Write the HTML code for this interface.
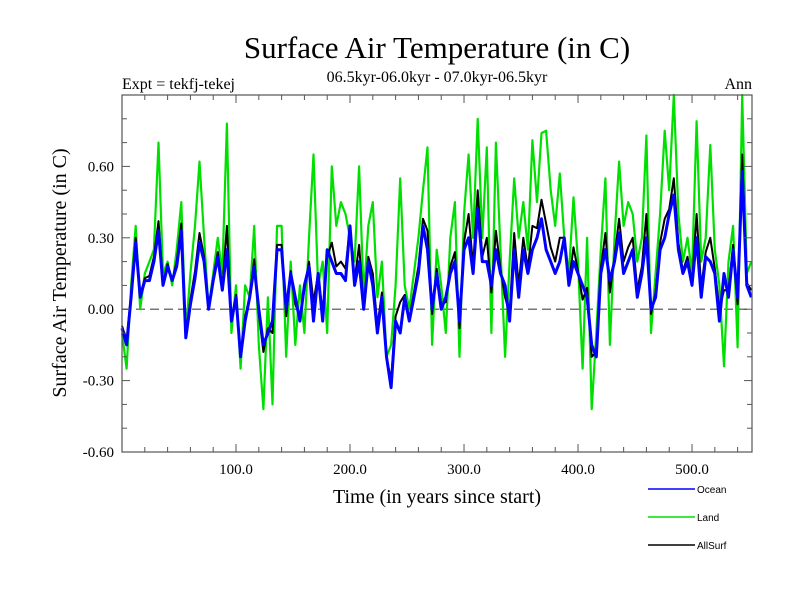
<!DOCTYPE html>
<html><head><meta charset="utf-8"><style>
body{margin:0;background:#fff;}
svg text{font-family:"Liberation Serif",serif;}
</style></head><body>
<svg id="chart" width="800" height="600" viewBox="0 0 800 600" xmlns="http://www.w3.org/2000/svg">
<rect width="800" height="600" fill="#fff"/>
<text x="437" y="58" font-size="31" text-anchor="middle">Surface Air Temperature (in C)</text>
<text x="122" y="89" font-size="16">Expt = tekfj-tekej</text>
<text x="437" y="82" font-size="16" text-anchor="middle">06.5kyr-06.0kyr - 07.0kyr-06.5kyr</text>
<text x="752" y="89" font-size="16" text-anchor="end">Ann</text>
<text transform="translate(66,273) rotate(-90)" font-size="20" text-anchor="middle">Surface Air Temperature (in C)</text>
<text x="437" y="503" font-size="20" text-anchor="middle">Time (in years since start)</text>
<g id="plot"></g>
<g id="axes"></g>
<g id="legend"></g>
</svg>
<script>
const years = [];
for (let t = 0; t <= 552; t += 4) years.push(t);
const ocean = [-0.08,-0.15,0.05,0.28,0.05,0.12,0.12,0.2,0.33,0.1,0.18,0.12,0.18,0.33,-0.12,0.02,0.13,0.28,0.2,0.0,0.12,0.22,0.08,0.25,-0.05,0.05,-0.2,-0.05,0.05,0.18,0.0,-0.15,-0.1,-0.05,0.25,
0.25,0.0,0.15,0.05,-0.05,0.1,0.18,-0.05,0.15,-0.05,0.25,0.2,0.15,0.15,0.12,0.35,0.1,0.2,0.0,0.2,0.1,-0.1,0.05,-0.2,-0.33,-0.05,-0.1,0.05,-0.05,0.05,0.15,0.35,0.25,0.0,0.15,
0.0,0.05,0.15,0.2,-0.05,0.25,0.3,0.15,0.42,0.2,0.2,0.1,0.25,0.15,0.1,-0.05,0.25,0.05,0.25,0.15,0.25,0.3,0.38,0.25,0.2,0.15,0.2,0.3,0.1,0.2,0.15,0.1,0.05,-0.15,-0.2,
0.15,0.25,0.12,0.2,0.32,0.15,0.2,0.25,0.05,0.15,0.3,0.0,0.05,0.25,0.3,0.4,0.48,0.25,0.15,0.2,0.1,0.3,0.05,0.22,0.2,0.15,-0.05,0.15,0.05,0.25,0.05,0.58,0.1,0.05];
const land = [-0.1,-0.25,0.1,0.35,0.0,0.15,0.2,0.25,0.7,0.15,0.2,0.1,0.25,0.45,-0.1,0.15,0.35,0.62,0.3,0.0,0.15,0.3,0.15,0.78,-0.1,0.1,-0.25,0.1,0.05,0.35,-0.15,-0.42,0.05,-0.4,0.35,
0.35,-0.2,0.2,-0.15,0.1,-0.1,0.3,0.65,0.1,0.2,-0.1,0.6,0.35,0.45,0.4,0.3,0.2,0.6,0.05,0.35,0.45,0.05,0.2,-0.2,-0.15,0.1,0.55,0.1,0.0,0.15,0.3,0.5,0.68,-0.15,0.25,
0.1,-0.1,0.3,0.45,-0.2,0.4,0.65,0.3,0.8,0.3,0.68,-0.1,0.7,0.25,-0.2,0.2,0.55,0.3,0.45,0.25,0.71,0.45,0.74,0.75,0.5,0.35,0.57,0.3,0.15,0.47,0.2,-0.25,0.3,-0.42,-0.1,
0.25,0.55,-0.15,0.3,0.62,0.35,0.45,0.4,0.2,0.3,0.73,-0.1,0.15,0.4,0.75,0.5,0.9,0.4,0.2,0.3,0.15,0.79,0.2,0.3,0.69,0.25,0.1,-0.24,0.2,0.35,-0.16,0.9,0.15,0.2];
const allSurf = [-0.07,-0.13,0.06,0.3,0.06,0.13,0.14,0.22,0.37,0.11,0.19,0.12,0.2,0.36,-0.11,0.04,0.16,0.32,0.22,0.0,0.13,0.24,0.09,0.35,-0.05,0.06,-0.2,-0.03,0.05,0.21,-0.02,-0.18,-0.08,-0.1,0.27,
0.27,-0.03,0.16,0.02,-0.03,0.08,0.2,0.03,0.15,-0.02,0.22,0.28,0.18,0.2,0.17,0.35,0.12,0.27,0.01,0.22,0.15,-0.07,0.07,-0.2,-0.3,-0.03,0.03,0.06,-0.04,0.07,0.18,0.38,0.33,-0.02,0.17,
0.02,0.03,0.18,0.24,-0.08,0.28,0.4,0.18,0.5,0.22,0.3,0.07,0.33,0.17,0.05,-0.02,0.32,0.1,0.3,0.17,0.35,0.34,0.46,0.36,0.26,0.2,0.3,0.3,0.11,0.26,0.16,0.04,0.09,-0.2,-0.18,
0.17,0.32,0.07,0.22,0.38,0.2,0.26,0.3,0.08,0.18,0.4,-0.02,0.07,0.28,0.38,0.42,0.55,0.28,0.16,0.22,0.11,0.4,0.09,0.24,0.3,0.17,0.0,0.08,0.08,0.27,0.02,0.65,0.11,0.08];
const yTickLabels = ["-0.60","-0.30","0.00","0.30","0.60"];
const xTickLabels = ["100.0","200.0","300.0","400.0","500.0"];
const seriesNames = ["Ocean","Land","AllSurf"];

const X0=122,X1=752,Y0=95,Y1=452, XMIN=0,XMAX=552.6, YMIN=-0.6,YMAX=0.9;
const sx=t=>X0+(t-XMIN)/(XMAX-XMIN)*(X1-X0);
const sy=v=>Y1-(v-YMIN)/(YMAX-YMIN)*(Y1-Y0);
const NS="http://www.w3.org/2000/svg";
function mk(tag,parent){const e=document.createElementNS(NS,tag);parent.appendChild(e);return e;}
const plot=document.getElementById('plot'), axes=document.getElementById('axes'), legend=document.getElementById('legend');

const z=mk('line',plot);


z.setAttribute('x1',X0);z.setAttribute('x2',X1);z.setAttribute('y1',sy(0));z.setAttribute('y2',sy(0));
z.setAttribute('stroke','#777');z.setAttribute('stroke-width','1.5');z.setAttribute('stroke-dasharray','9,5');

function drawSeries(vals,color,name,w){
  const p=mk('polyline',plot);
  
  
  p.setAttribute('points',vals.map((v,i)=>sx(years[i]).toFixed(1)+','+sy(v).toFixed(1)).join(' '));
  p.setAttribute('fill','none');p.setAttribute('stroke',color);p.setAttribute('stroke-width',w);p.setAttribute('stroke-linejoin','round');
}
drawSeries(land,'#00e000','land-line',2.2);
drawSeries(allSurf,'#000','allsurf-line',2);
drawSeries(ocean,'#0000ff','ocean-line',3);

const fr=mk('rect',axes);


fr.setAttribute('x',X0);fr.setAttribute('y',Y0);fr.setAttribute('width',X1-X0);fr.setAttribute('height',Y1-Y0);
fr.setAttribute('fill','none');fr.setAttribute('stroke','#555');fr.setAttribute('stroke-width','1.2');

function tick(x1,y1,x2,y2){const l=mk('line',axes);
  
  
  l.setAttribute('x1',x1);l.setAttribute('y1',y1);l.setAttribute('x2',x2);l.setAttribute('y2',y2);l.setAttribute('stroke','#555');}
for(let k=-6;k<=9;k++){const v=k/10,y=sy(v),len=(k%3===0)?8:5;tick(X0,y,X0+len,y);tick(X1,y,X1-len,y);}
for(let t=20;t<XMAX;t+=20){const x=sx(t),len=(t%100===0)?8:5;tick(x,Y0,x,Y0+len);tick(x,Y1,x,Y1-len);}
yTickLabels.forEach(s=>{const tx=mk('text',axes);
  
  
  tx.setAttribute('x',X0-8);tx.setAttribute('y',sy(parseFloat(s))+5);tx.setAttribute('font-size','15');tx.setAttribute('text-anchor','end');tx.textContent=s;});
xTickLabels.forEach(s=>{const tx=mk('text',axes);
  
  
  tx.setAttribute('x',sx(parseFloat(s)));tx.setAttribute('y',474);tx.setAttribute('font-size','15');tx.setAttribute('text-anchor','middle');tx.textContent=s;});

const lcolors=['#0000ff','#00e000','#000'];
seriesNames.forEach((n,i)=>{const y=489+i*28;
  const l=mk('line',legend);
  
  
  l.setAttribute('x1',648);l.setAttribute('x2',695);l.setAttribute('y1',y);l.setAttribute('y2',y);l.setAttribute('stroke',lcolors[i]);l.setAttribute('stroke-width','1.5');
  const tx=mk('text',legend);
  
  
  tx.setAttribute('x',697);tx.setAttribute('y',y+4);tx.setAttribute('font-size','10');tx.setAttribute('style','font-family:"Liberation Sans",sans-serif');tx.textContent=n;});
</script>
</body></html>
